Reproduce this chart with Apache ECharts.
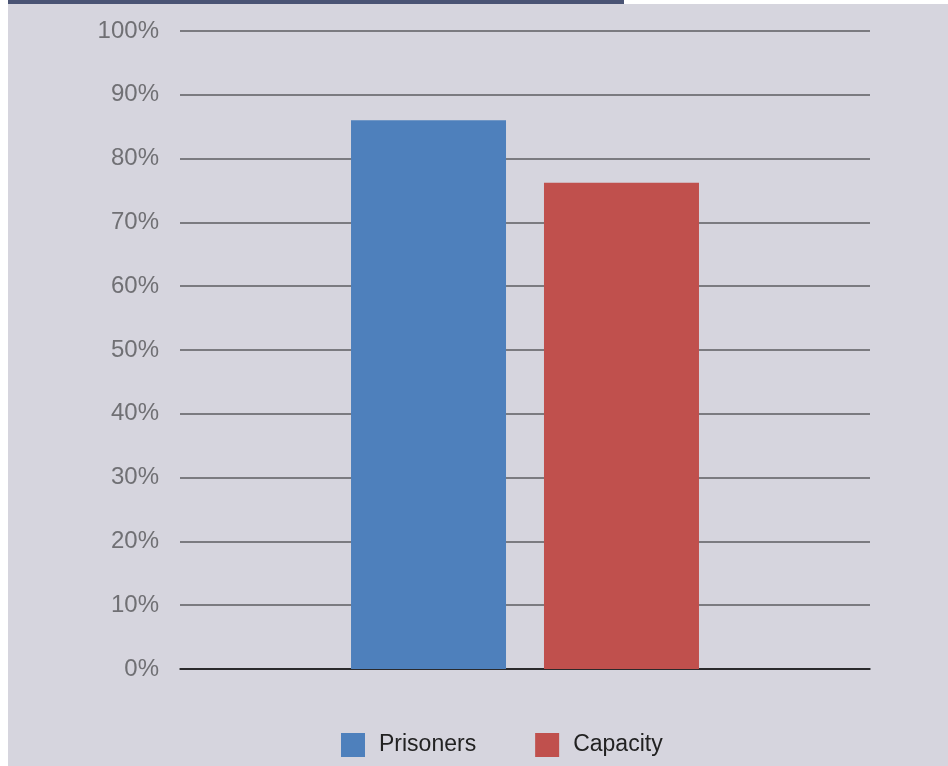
<!DOCTYPE html>
<html>
<head>
<meta charset="utf-8">
<script src="https://cdn.jsdelivr.net/npm/echarts@6/dist/echarts.min.js"></script>
<style>
  html, body { margin: 0; padding: 0; background: #ffffff; }
  #wrap { position: relative; width: 948px; height: 766px; overflow: hidden; }
  #band { position: absolute; left: 8px; top: 0; width: 616px; height: 4px; background: #4a5474; }
  #chart { position: absolute; left: 8px; top: 4px; width: 940px; height: 762px; background: #d6d5de; }
</style>
</head>
<body>
<div id="wrap">
  <div id="band"></div>
  <div id="chart"></div>
</div>
<script>
// Share of prisoners vs. share of capacity
const categories = [''];
const seriesNames = ['Prisoners', 'Capacity'];
const prisoners = [86];
const capacity = [76.2];
const seriesColors = ['#4e80bc', '#c0504d'];

const chart = echarts.init(document.getElementById('chart'), null, { renderer: 'canvas' });

const font = '"Liberation Sans", Arial, Helvetica, sans-serif';

chart.setOption({
  backgroundColor: '#d6d5de',
  animation: false,
  grid: { left: 172, right: 78, top: 27, bottom: 97 },
  legend: {
    data: seriesNames,
    bottom: 4,
    left: 328,
    itemWidth: 24,
    itemHeight: 24,
    itemGap: 59,
    icon: 'rect',
    textStyle: { fontFamily: font, fontSize: 23, color: '#222222', padding: [0, 0, 0, 9] }
  },
  xAxis: {
    type: 'category',
    data: categories,
    axisLine: { show: true, lineStyle: { color: '#111111', width: 1.5 } },
    axisTick: { show: false },
    axisLabel: { show: false },
    splitLine: { show: false }
  },
  yAxis: {
    type: 'value',
    min: 0,
    max: 100,
    interval: 10,
    axisLine: { show: false },
    axisTick: { show: false },
    axisLabel: {
      formatter: '{value}%',
      fontFamily: font,
      fontSize: 24,
      color: '#707074',
      margin: 21
    },
    splitLine: { show: true, lineStyle: { color: '#5c5c60', width: 1.5 } }
  },
  series: [
    {
      name: seriesNames[0],
      type: 'bar',
      data: prisoners,
      barWidth: 155,
      barGap: '24.5%',
      itemStyle: { color: seriesColors[0] }
    },
    {
      name: seriesNames[1],
      type: 'bar',
      data: capacity,
      barWidth: 155,
      itemStyle: { color: seriesColors[1] }
    }
  ]
});
</script>
</body>
</html>
